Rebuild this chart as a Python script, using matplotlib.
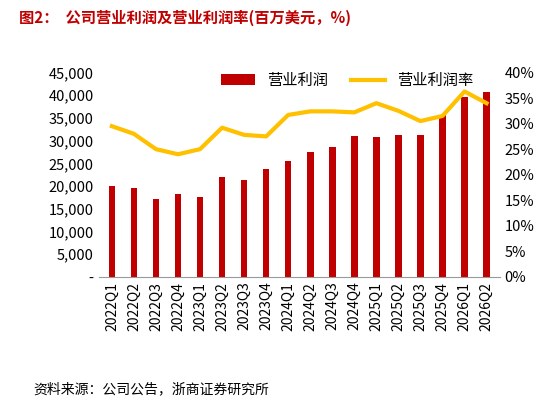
import matplotlib.pyplot as plt
import matplotlib.ticker as mticker

plt.rcParams['font.family'] = ['Noto Sans CJK SC', 'DejaVu Sans']

quarters = ['2022Q1', '2022Q2', '2022Q3', '2022Q4', '2023Q1', '2023Q2', '2023Q3', '2023Q4',
            '2024Q1', '2024Q2', '2024Q3', '2024Q4', '2025Q1', '2025Q2', '2025Q3', '2025Q4',
            '2026Q1', '2026Q2']
op_profit = [20000, 19500, 17200, 18200, 17500, 21900, 21400, 23800, 25500, 27500,
             28600, 31000, 30700, 31300, 31200, 35600, 39700, 40800]
op_margin = [29.5, 28.0, 25.0, 24.0, 25.0, 29.2, 27.8, 27.5, 31.7, 32.4,
             32.4, 32.2, 34.0, 32.5, 30.5, 31.5, 36.3, 34.0]

fig = plt.figure(figsize=(5.48, 4.03), dpi=100)
ax = fig.add_axes([0.18, 0.313, 0.732, 0.507])
x = range(len(quarters))
ax.bar(x, op_profit, width=0.3, color='#C00000', label='营业利润')
ax.set_ylim(0, 45000)
ax.set_yticks(range(0, 45001, 5000))
ax.yaxis.set_major_formatter(mticker.FuncFormatter(lambda v, p: '-' if v == 0 else f'{int(v):,}'))
ax.set_xlim(-0.6, len(quarters) - 0.4)
ax.set_xticks(list(x))
ax.set_xticklabels(quarters, rotation=90, fontsize=10)
ax.tick_params(axis='y', labelsize=10.5, length=0)
ax.tick_params(axis='x', length=0)
for s in ['top', 'right', 'left']:
    ax.spines[s].set_visible(False)
ax.spines['bottom'].set_color('#999999')

ax2 = ax.twinx()
ax2.plot(x, op_margin, color='#FFC000', lw=3, label='营业利润率')
ax2.set_ylim(0, 40)
ax2.set_yticks(range(0, 41, 5))
ax2.yaxis.set_major_formatter(mticker.FuncFormatter(lambda v, p: f'{int(v)}%'))
ax2.tick_params(axis='y', labelsize=10.5, length=0)
for s in ax2.spines.values():
    s.set_visible(False)

h1, l1 = ax.get_legend_handles_labels()
h2, l2 = ax2.get_legend_handles_labels()
ax.legend(h1 + h2, l1 + l2, loc='upper center', bbox_to_anchor=(0.62, 1.07), ncol=2,
          frameon=False, fontsize=11, handlelength=2.2, columnspacing=1.5)

fig.text(0.035, 0.955, '图2：  公司营业利润及营业利润率(百万美元，%)', color='#C00000',
         fontsize=11, fontweight='bold', va='center')
fig.text(0.06, 0.035, '资料来源：公司公告，浙商证券研究所', fontsize=10, va='center')

fig.savefig('out.png', dpi=100)
